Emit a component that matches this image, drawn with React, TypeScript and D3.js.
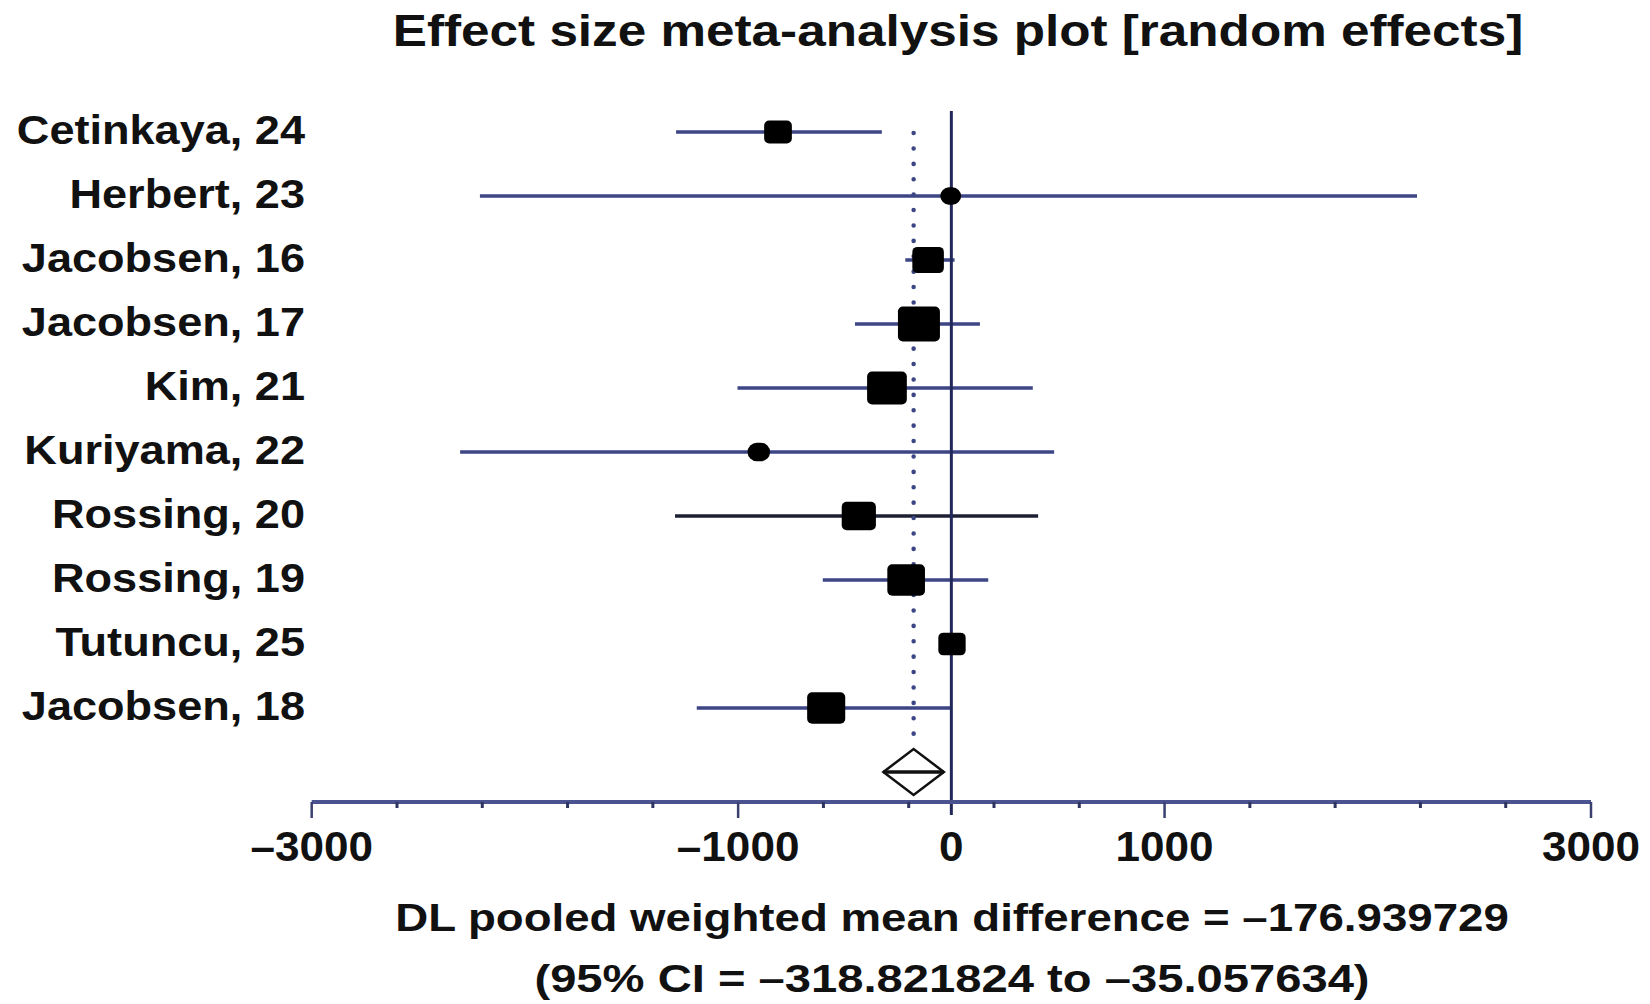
import React from 'react';
import * as d3 from 'd3';

const width = 1650,
  height = 1004;

// study rows, top to bottom
const studies = ['Cetinkaya, 24', 'Herbert, 23', 'Jacobsen, 16', 'Jacobsen, 17', 'Kim, 21', 'Kuriyama, 22', 'Rossing, 20', 'Rossing, 19', 'Tutuncu, 25', 'Jacobsen, 18'];
const estimates = [-813, -3, -109, -152, -302, -903, -434, -212, 3, -587];
const lower = [-1291, -2211, -216, -452, -1003, -2304, -1296, -603, -40, -1194];
const upper = [-326, 2184, 15, 134, 382, 482, 407, 173, 45, 2];
const weights = [7.1, 4.0, 9.2, 16.3, 14.6, 4.7, 10.8, 13.1, 6.9, 13.4];

const pooled = { est: -176.939729, lo: -318.821824, hi: -35.057634 };

const majorTicks = [-3000, -1000, 0, 1000, 3000];
const minorTicks = d3.range(-3000, 3001, 400);

const title = 'Effect size meta-analysis plot [random effects]';
const footer1 = 'DL pooled weighted mean difference = \u2013176.939729';
const footer2 = '(95% CI = \u2013318.821824 to \u201335.057634)';

const FONT = '"Liberation Sans", Arial, Helvetica, sans-serif';
const LINE = '#3d4684';
const SX = 1.1; // text in the picture is stretched sideways

const x = d3.scaleLinear().domain([-3000, 3000]).range([311.7, 1591]);
const y = d3.scalePoint<string>().domain([...studies, 'pooled']).range([132, 772]);
const boxW = d3.scaleSqrt().domain([0, 16.3]).range([0, 42]);

const fmtTick = (v: number) => (v < 0 ? '\u2013' + Math.abs(v) : String(v));

function Stretched({ tx, ty, anchor, size, children, sx = SX }: any) {
  return (
    <g transform={`translate(${tx},${ty}) scale(${sx},1)`}>
      <text x={0} y={0} textAnchor={anchor} fontSize={size} fontWeight="bold" fontFamily={FONT} fill="#111">
        {children}
      </text>
    </g>
  );
}

export default function App() {
  const axisY = 802;
  const yPool = y('pooled') as number;
  const dh = 23;

  const diamond = [
    [x(pooled.lo), yPool],
    [x(pooled.est), yPool - dh],
    [x(pooled.hi), yPool],
    [x(pooled.est), yPool + dh],
  ];

  return (
    <svg width={width} height={height} style={{ position: 'absolute', left: 0, top: 0, background: '#fff' }}>
      <rect width={width} height={height} fill="#fff" />

      <Stretched tx={958} ty={46} anchor="middle" size={44} sx={1.165}>{title}</Stretched>

      {/* row labels */}
      {studies.map((s) => (
        <Stretched key={s} tx={305} ty={(y(s) as number) + 12} anchor="end" size={41}>{s}</Stretched>
      ))}

      {/* confidence intervals */}
      {studies.map((s, i) => (
        <line key={'ci' + s} x1={x(lower[i])} x2={x(upper[i])} y1={y(s)} y2={y(s)}
          stroke={s === 'Rossing, 20' ? '#1d1f33' : LINE} strokeWidth={3.5} />
      ))}

      {/* pooled estimate, dotted */}
      <line x1={x(pooled.est)} x2={x(pooled.est)} y1={133} y2={yPool - dh}
        stroke={LINE} strokeWidth={4.5} strokeDasharray="0.1 15.3" strokeLinecap="round" />

      {/* no-effect line */}
      <line x1={x(0)} x2={x(0)} y1={111} y2={axisY + 13} stroke="#23285a" strokeWidth={3} />

      {/* study markers */}
      {studies.map((s, i) => {
        const w = boxW(weights[i]);
        const h = w * 0.83;
        const r = w < 26 ? Math.min(w, h) / 2 : 5;
        return (
          <rect key={'m' + s} x={x(estimates[i]) - w / 2} y={(y(s) as number) - h / 2}
            width={w} height={h} rx={r} ry={r} fill="#000" />
        );
      })}

      {/* pooled diamond */}
      <polygon points={diamond.map((p) => p.join(',')).join(' ')} fill="#fff" stroke="#111" strokeWidth={2.5} />
      <line x1={x(pooled.lo)} x2={x(pooled.hi)} y1={yPool} y2={yPool} stroke="#111" strokeWidth={3.5} />

      {/* axis */}
      <line x1={x(-3000)} x2={x(3000)} y1={axisY} y2={axisY} stroke="#4a5290" strokeWidth={4} />
      {minorTicks.filter((t) => !majorTicks.includes(t)).map((t) => (
        <line key={'mt' + t} x1={x(t)} x2={x(t)} y1={axisY} y2={axisY + 6} stroke="#2e3460" strokeWidth={3} />
      ))}
      {majorTicks.filter((t) => t !== 0).map((t) => (
        <line key={'Mt' + t} x1={x(t)} x2={x(t)} y1={axisY} y2={axisY + 16} stroke="#3a4070" strokeWidth={2.5} />
      ))}
      {majorTicks.map((t) => (
        <Stretched key={'lb' + t} tx={x(t)} ty={861} anchor="middle" size={42} sx={1.05}>{fmtTick(t)}</Stretched>
      ))}

      <Stretched tx={952} ty={931} anchor="middle" size={39} sx={1.17}>{footer1}</Stretched>
      <Stretched tx={952} ty={992} anchor="middle" size={39} sx={1.21}>{footer2}</Stretched>
    </svg>
  );
}
